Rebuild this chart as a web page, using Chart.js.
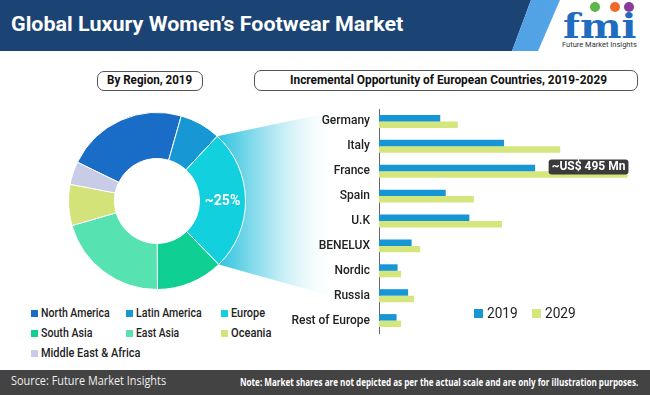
<!DOCTYPE html>
<html>
<head>
<meta charset="utf-8">
<script src="https://cdn.jsdelivr.net/npm/chart.js@4.4.1/dist/chart.umd.min.js"></script>
<style>
  html, body { margin: 0; padding: 0; background: #fff; }
  #page { position: relative; width: 650px; height: 395px; overflow: hidden; font-family: Roboto, "Liberation Sans", sans-serif; }
  .abs { position: absolute; }
  .txt { position: absolute; white-space: nowrap; transform-origin: left center; }
  #band { left: 0; top: 0; width: 650px; height: 51px; background: #1b4374; clip-path: polygon(0 0, 531px 0, 512px 51px, 0 51px); }
  #stripe { left: 0; top: 0; width: 650px; height: 51px; background: linear-gradient(90deg, #2f86d6, #5aa9ea); clip-path: polygon(531px 0, 560px 0, 538px 51px, 512px 51px); }
  .box { position: absolute; border: 1px solid #555; border-radius: 7px; box-sizing: border-box; }
  .sq { position: absolute; width: 7px; height: 7px; }
  #footer { left: 0; top: 370px; width: 650px; height: 25px; background: #434343; }
  .dot { position: absolute; width: 10px; height: 10px; border-radius: 50%; }
</style>
</head>
<body>
<div id="page">
  <div id="band" class="abs"></div>
  <div id="stripe" class="abs"></div>
  <div class="txt" data-w="392" style="left:11px; top:14px; font-size:21px; line-height:21px; font-weight:700; color:#fff;">Global Luxury Women’s Footwear Market</div>

  <div class="dot" style="left:590px; top:2px; background:#5bb848;"></div>
  <div class="dot" style="left:610px; top:2px; background:#f06a2a;"></div>
  <div class="dot" style="left:624px; top:2px; background:#8a3b9a;"></div>
  <div class="txt" data-w="74" style="left:563px; top:9px; font-family:'DejaVu Serif'; font-size:34px; line-height:34px; font-weight:700; color:#1f6cc0;">fmi</div>
  <div class="txt" data-w="75" style="left:562px; top:41px; font-size:7.5px; line-height:8px; color:#333;">Future Market Insights</div>

  <div class="box" style="left:97px; top:71px; width:106px; height:20px;"></div>
  <div class="txt" data-w="85" style="left:107px; top:73px; font-size:13px; line-height:13px; font-weight:700; color:#111;">By Region, 2019</div>
  <div class="box" style="left:254px; top:70px; width:384px; height:21px;"></div>
  <div class="txt" data-w="317" style="left:290px; top:73px; font-size:13px; line-height:13px; font-weight:700; color:#111;">Incremental Opportunity of European Countries, 2019-2029</div>

  <canvas id="donut" class="abs" style="left:0; top:100px;" width="340" height="205"></canvas>
  <canvas id="bars" class="abs" style="left:290px; top:100px;" width="360" height="245"></canvas>

  <div id="regionLegend"></div>
  <div id="barLegend"></div>

  <div id="footer" class="abs"></div>
  <div class="txt" data-w="155" style="left:11px; top:374px; font-family:'Open Sans'; font-size:13px; line-height:13px; color:#eee;">Source: Future Market Insights</div>
  <div class="txt" data-w="398" style="left:240px; top:377px; font-family:'Open Sans'; font-size:10px; line-height:10px; font-weight:700; color:#fff;">Note: Market shares are not depicted as per the actual scale and are only for illustration purposes.</div>
</div>
<script>
const regions = ['North America', 'Latin America', 'Europe', 'South Asia', 'East Asia', 'Oceania', 'Middle East & Africa'];
const regionShare = [22.2, 7.5, 25.8, 12.2, 20.6, 7.5, 4.2];
const regionColors = ['#1a6dc6', '#1897d5', '#12d0dd', '#10cf93', '#56e2b1', '#d4e27a', '#c8cce6'];
const regionLabelWidths = [69, 66, 34, 51, 43, 40, 99];
const europeLabel = '~25%';

const countries = ['Germany', 'Italy', 'France', 'Spain', 'U.K', 'BENELUX', 'Nordic', 'Russia', 'Rest of Europe'];
const years = ['2019', '2029'];
const value2019 = [122, 249, 311, 133, 180, 65, 37, 58, 35];
const value2029 = [157, 361, 495, 189, 245, 82, 44, 70, 44];
const yearColors = ['#1796d6', '#d5e67c'];
const calloutIndex = 2;

// funnel from the Europe slice towards the bar chart
const funnelPlugin = {
    id: 'funnel',
    beforeDatasetsDraw(chart) {
        const arc = chart.getDatasetMeta(0).data[2];
        const { x, y, startAngle, endAngle, outerRadius } = arc.getProps(['x', 'y', 'startAngle', 'endAngle', 'outerRadius'], true);
        const ax = x + outerRadius * Math.cos(startAngle), ay = y + outerRadius * Math.sin(startAngle);
        const bx = x + outerRadius * Math.cos(endAngle), by = y + outerRadius * Math.sin(endAngle);
        const right = chart.width;
        const ctx = chart.ctx;
        const g = ctx.createLinearGradient(ax, 0, right, 0);
        g.addColorStop(0, 'rgba(20,188,218,0.9)');
        g.addColorStop(0.5, 'rgba(40,190,220,0.3)');
        g.addColorStop(1, 'rgba(255,255,255,0)');
        ctx.save();
        ctx.beginPath();
        ctx.moveTo(ax, ay);
        ctx.lineTo(right, ay - 0.21 * (right - ax));
        ctx.lineTo(right, by + 0.28 * (right - bx));
        ctx.lineTo(bx, by);
        ctx.closePath();
        ctx.fillStyle = g;
        ctx.fill();
        ctx.restore();
    },
    afterDatasetsDraw(chart) {
        const arc = chart.getDatasetMeta(0).data[2];
        const p = arc.tooltipPosition();
        const ctx = chart.ctx;
        ctx.save();
        ctx.font = 'bold 14px Roboto';
        ctx.fillStyle = '#fff';
        ctx.textAlign = 'center';
        ctx.textBaseline = 'middle';
        ctx.fillText(europeLabel, p.x, p.y + 1);
        ctx.restore();
    }
};

const calloutPlugin = {
    id: 'callout',
    afterDatasetsDraw(chart) {
        const bar = chart.getDatasetMeta(1).data[calloutIndex];
        const ctx = chart.ctx;
        const text = '~US$ ' + value2029[calloutIndex] + ' Mn';
        ctx.save();
        ctx.font = 'bold 12px Roboto';
        const w = ctx.measureText(text).width + 6;
        const right = bar.x + 1, top = bar.y - 15, h = 15;
        ctx.fillStyle = '#3a3a3a';
        ctx.beginPath();
        ctx.roundRect(right - w, top, w, h, 3);
        ctx.fill();
        ctx.fillStyle = '#fff';
        ctx.textAlign = 'center';
        ctx.textBaseline = 'middle';
        ctx.fillText(text, right - w / 2, top + h / 2 + 0.5);
        ctx.restore();
    }
};

new Chart(document.getElementById('donut'), {
    type: 'doughnut',
    data: { labels: regions, datasets: [{ data: regionShare, backgroundColor: regionColors, borderColor: '#fff', borderWidth: 1 }] },
    options: {
        responsive: false, animation: false, rotation: 296, cutout: '48%',
        layout: { padding: { left: 68, right: 94, top: 12, bottom: 15 } },
        plugins: { legend: { display: false }, tooltip: { enabled: false } }
    },
    plugins: [funnelPlugin]
});

new Chart(document.getElementById('bars'), {
    type: 'bar',
    data: {
        labels: countries,
        datasets: [
            { label: years[0], data: value2019, backgroundColor: yearColors[0], barPercentage: 1, categoryPercentage: 0.52 },
            { label: years[1], data: value2029, backgroundColor: yearColors[1], barPercentage: 1, categoryPercentage: 0.52 }
        ]
    },
    options: {
        indexAxis: 'y', responsive: false, animation: false,
        layout: { padding: { left: 0, right: 10, top: 9, bottom: 12 } },
        scales: {
            x: { display: false, min: 0, max: 520 },
            y: {
                grid: { display: false, drawTicks: false },
                border: { display: true, color: '#666', width: 1 },
                ticks: { color: '#222', padding: 9, font: { family: 'Roboto', size: 12, weight: '500' } },
                afterFit: s => { s.width = 89; s.paddingTop = 0; s.paddingBottom = 0; }
            }
        },
        plugins: { legend: { display: false }, tooltip: { enabled: false } }
    },
    plugins: [calloutPlugin]
});

// region legend, three columns
const legendBox = document.getElementById('regionLegend');
regions.forEach((name, i) => {
    const col = i % 3, row = Math.floor(i / 3);
    const x = 31 + col * 95, cy = 313 + row * 20;
    const sq = document.createElement('div');
    sq.className = 'sq';
    sq.style.cssText = `left:${x}px; top:${cy - 3.5}px; background:${regionColors[i]};`;
    legendBox.appendChild(sq);
    const t = document.createElement('div');
    t.className = 'txt';
    t.dataset.w = regionLabelWidths[i];
    t.style.cssText = `left:${x + 10}px; top:${cy - 6}px; font-size:12.5px; line-height:12px; font-weight:500; color:#222;`;
    t.textContent = name;
    legendBox.appendChild(t);
});

// year legend for bar chart
const barLegend = document.getElementById('barLegend');
years.forEach((y, i) => {
    const x = 474 + i * 58;
    const sq = document.createElement('div');
    sq.className = 'abs';
    sq.style.cssText = `left:${x}px; top:309px; width:9px; height:9px; background:${yearColors[i]};`;
    barLegend.appendChild(sq);
    const t = document.createElement('div');
    t.className = 'txt';
    t.dataset.w = 31;
    t.style.cssText = `left:${x + 13}px; top:306px; font-size:15px; line-height:15px; color:#222;`;
    t.textContent = y;
    barLegend.appendChild(t);
});

// squeeze text to the widths measured on the reference
document.querySelectorAll('.txt[data-w]').forEach(el => {
    const k = +el.dataset.w / el.scrollWidth;
    el.style.transform = `scaleX(${k})`;
});
</script>
</body>
</html>
